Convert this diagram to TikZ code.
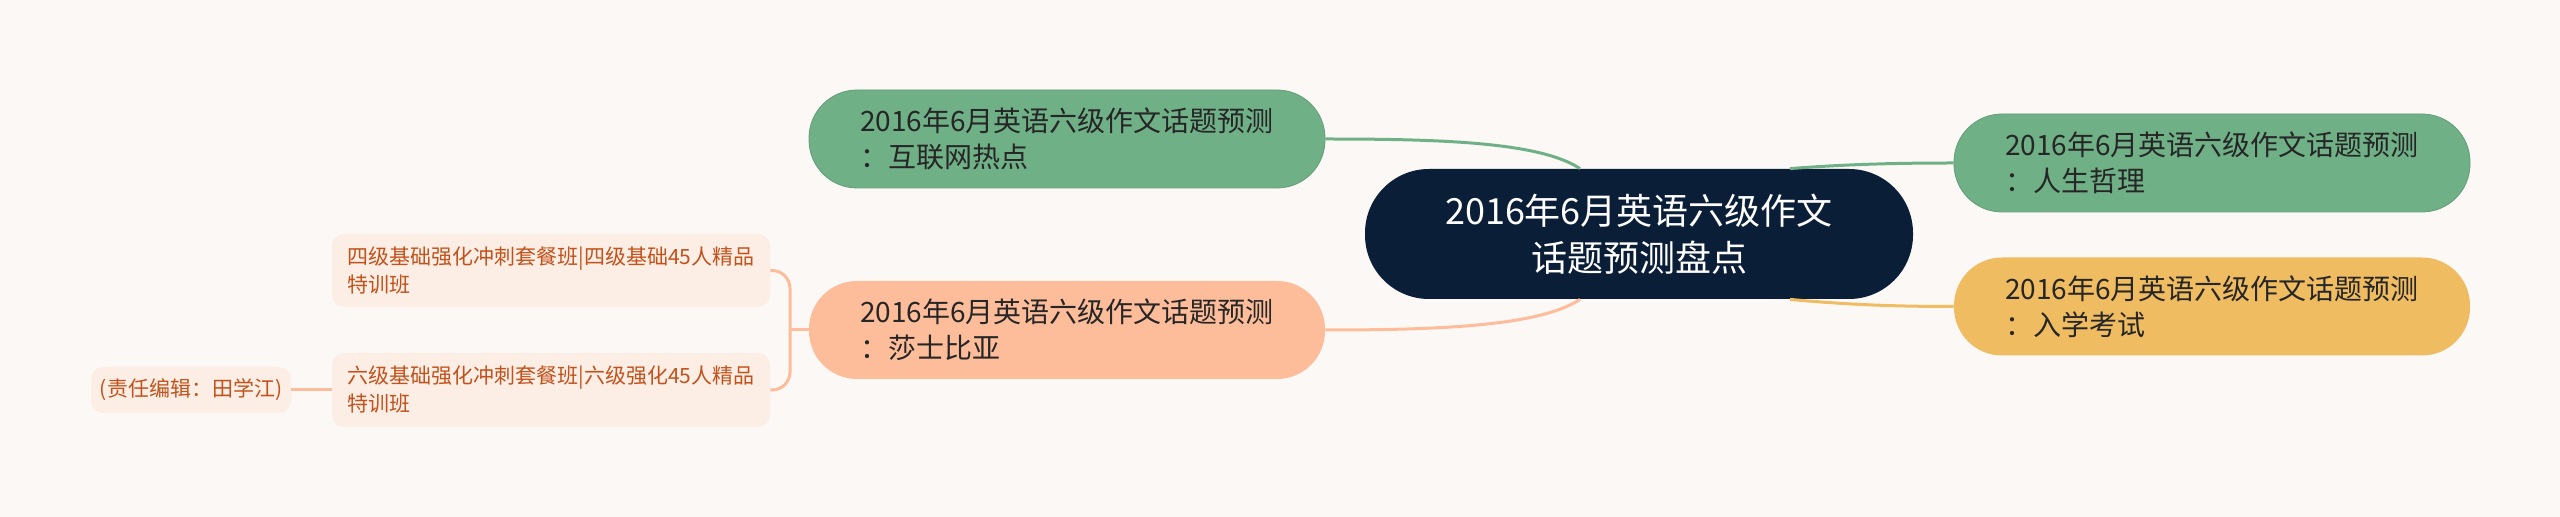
\documentclass[tikz,border=0pt]{standalone}
\usepackage{fontspec}
\setmainfont{Noto Sans CJK SC}
\usetikzlibrary{calc}

\definecolor{bgpaper}{HTML}{FCF8F6}
\definecolor{rootnavy}{HTML}{0B1E38}
\definecolor{topgreen}{HTML}{6FB086}
\definecolor{topyellow}{HTML}{F0BC62}
\definecolor{topsalmon}{HTML}{FDBD9A}
\definecolor{leafpink}{HTML}{FCEEE5}
\definecolor{leaftext}{HTML}{C2521C}

\tikzset{
  rootbox/.style={fill=rootnavy, text=white, rounded corners=32pt, minimum width=274pt,
    minimum height=65pt, align=center, font=\fontsize{18}{23.5}\selectfont},
  topic/.style={rounded corners=24pt, minimum width=258pt, minimum height=49pt,
    align=left, text=black!85, font=\fontsize{14}{18}\selectfont},
  leafbox/.style={fill=leafpink, text=leaftext, rounded corners=6pt, align=left,
    font=\fontsize{10.5}{14}\selectfont},
  link/.style={line width=1.5pt},
}

\begin{document}
\begin{tikzpicture}[x=0.5pt,y=-0.5pt]
    \fill[bgpaper] (0,0) rectangle (2560,517);
    \useasboundingbox (0,0) rectangle (2560,517);

    % Centro
    \node[rootbox] (root) at (1639,234) {2016年6月英语六级作文\\话题预测盘点};

    % Ramas
    \node[topic, fill=topgreen, draw=topgreen!90!black, line width=0.4pt] (rgreen) at (2212,163) {2016年6月英语六级作文话题预测\\：人生哲理};
    \node[topic, fill=topyellow] (ryellow) at (2212,306.5) {2016年6月英语六级作文话题预测\\：入学考试};
    \node[topic, fill=topgreen, draw=topgreen!90!black, line width=0.4pt] (lgreen) at (1067,139) {2016年6月英语六级作文话题预测\\：互联网热点};
    \node[topic, fill=topsalmon] (lsalmon) at (1067,330) {2016年6月英语六级作文话题预测\\：莎士比亚};

    % Hojas
    \node[leafbox, minimum width=219pt, minimum height=36.5pt] (leafa) at (551,270.5) {四级基础强化冲刺套餐班|四级基础45人精品\\特训班};
    \node[leafbox, minimum width=219pt, minimum height=37pt] (leafb) at (551,390) {六级基础强化冲刺套餐班|六级强化45人精品\\特训班};
    \node[leafbox, minimum width=100pt, minimum height=23pt] (editor) at (191,390) {(责任编辑：田学江)};

    % Conexiones
    \draw[link, topgreen] ($(root.north)+(-59,0)$) .. controls (1540,142) and (1440,139) .. (lgreen.east);
    \draw[link, topsalmon] ($(root.south)+(-59,0)$) .. controls (1540,326) and (1440,330) .. (lsalmon.east);
    \draw[link, topgreen] ($(root.north)+(151,0)$) .. controls (1850,164) and (1900,163) .. (rgreen.west);
    \draw[link, topyellow] ($(root.south)+(151,0)$) .. controls (1850,305) and (1900,306.5) .. (ryellow.west);

    \coordinate (fork) at (790,330);
    \draw[link, topsalmon] (lsalmon.west) -- (fork);
    \draw[link, topsalmon, rounded corners=9pt] (leafa.east) -| (fork) |- (leafb.east);
    \draw[link, topsalmon] (editor.east) -- (leafb.west);
\end{tikzpicture}
\end{document}
